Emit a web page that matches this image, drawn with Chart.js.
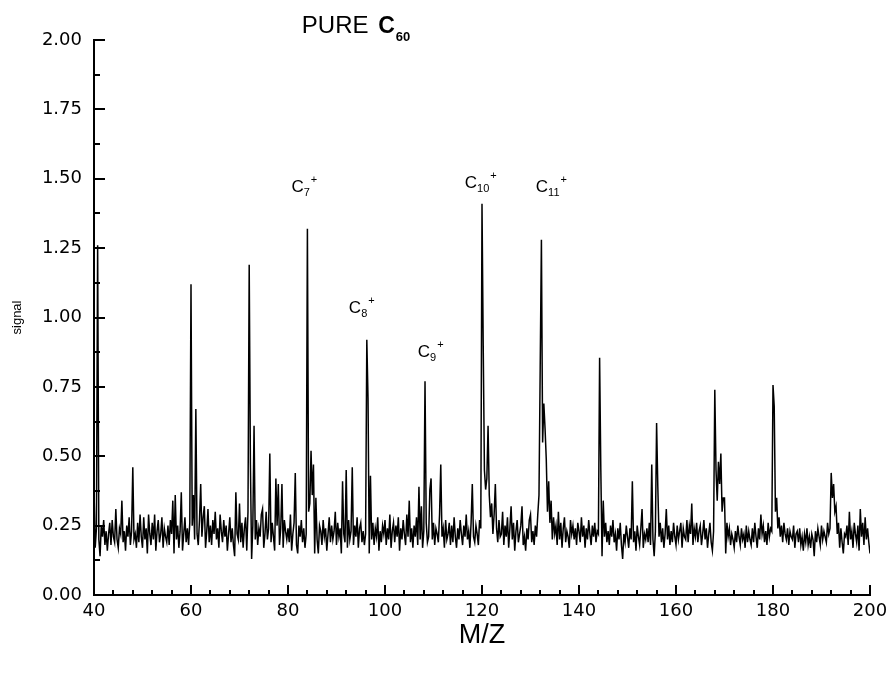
<!DOCTYPE html>
<html>
<head>
<meta charset="utf-8">
<script src="https://cdn.jsdelivr.net/npm/chart.js@4.4.1/dist/chart.umd.min.js"></script>
<style>
  html, body { margin: 0; padding: 0; background: #ffffff; }
  #wrap { width: 890px; height: 673px; position: relative; }
</style>
</head>
<body>
<div id="wrap"><canvas id="c" width="890" height="673"></canvas></div>
<script>
// ---------------- data ----------------
const mzStart = 40;      // first M/Z value of the scan
const mzStep = 0.25;     // sampling interval of the scan
// signal, 4 samples per M/Z unit (rows start at the M/Z shown in the comment)
const signal = [
  0.38, 0.17, 0.24, 1.26,  // 40
  0.20, 0.14, 0.25, 0.21,  // 41
  0.27, 0.18, 0.23, 0.16,  // 42
  0.22, 0.26, 0.18, 0.27,  // 43
  0.21, 0.19, 0.31, 0.20,  // 44
  0.17, 0.24, 0.22, 0.34,  // 45
  0.19, 0.23, 0.16, 0.25,  // 46
  0.21, 0.28, 0.18, 0.23,  // 47
  0.46, 0.20, 0.22, 0.17,  // 48
  0.26, 0.19, 0.29, 0.21,  // 49
  0.17, 0.28, 0.20, 0.24,  // 50
  0.15, 0.29, 0.22, 0.18,  // 51
  0.26, 0.20, 0.29, 0.16,  // 52
  0.23, 0.27, 0.19, 0.22,  // 53
  0.28, 0.17, 0.24, 0.21,  // 54
  0.19, 0.25, 0.18, 0.27,  // 55
  0.22, 0.34, 0.15, 0.36,  // 56
  0.20, 0.25, 0.17, 0.23,  // 57
  0.37, 0.16, 0.22, 0.28,  // 58
  0.19, 0.24, 0.18, 0.26,  // 59
  1.12, 0.25, 0.36, 0.20,  // 60
  0.67, 0.22, 0.18, 0.27,  // 61
  0.40, 0.21, 0.28, 0.32,  // 62
  0.17, 0.23, 0.31, 0.19,  // 63
  0.25, 0.18, 0.27, 0.22,  // 64
  0.30, 0.20, 0.24, 0.17,  // 65
  0.29, 0.23, 0.19, 0.27,  // 66
  0.21, 0.25, 0.16, 0.22,  // 67
  0.28, 0.19, 0.24, 0.18,  // 68
  0.14, 0.37, 0.22, 0.20,  // 69
  0.33, 0.19, 0.26, 0.17,  // 70
  0.24, 0.28, 0.16, 0.30,  // 71
  1.19, 0.47, 0.13, 0.25,  // 72
  0.61, 0.20, 0.27, 0.18,  // 73
  0.24, 0.21, 0.29, 0.31,  // 74
  0.17, 0.22, 0.30, 0.20,  // 75
  0.24, 0.51, 0.19, 0.26,  // 76
  0.21, 0.16, 0.42, 0.25,  // 77
  0.40, 0.18, 0.24, 0.40,  // 78
  0.17, 0.27, 0.23, 0.20,  // 79
  0.24, 0.19, 0.29, 0.16,  // 80
  0.22, 0.26, 0.44, 0.18,  // 81
  0.15, 0.25, 0.21, 0.27,  // 82
  0.19, 0.24, 0.17, 0.22,  // 83
  1.32, 0.30, 0.33, 0.52,  // 84
  0.36, 0.47, 0.15, 0.35,  // 85
  0.20, 0.15, 0.25, 0.23,  // 86
  0.18, 0.27, 0.21, 0.24,  // 87
  0.16, 0.22, 0.28, 0.19,  // 88
  0.25, 0.20, 0.23, 0.30,  // 89
  0.18, 0.26, 0.21, 0.24,  // 90
  0.15, 0.41, 0.22, 0.19,  // 91
  0.45, 0.17, 0.27, 0.20,  // 92
  0.23, 0.46, 0.18, 0.25,  // 93
  0.21, 0.28, 0.17, 0.24,  // 94
  0.26, 0.19, 0.23, 0.18,  // 95
  0.22, 0.92, 0.71, 0.15,  // 96
  0.43, 0.20, 0.26, 0.18,  // 97
  0.24, 0.21, 0.28, 0.16,  // 98
  0.23, 0.19, 0.25, 0.22,  // 99
  0.27, 0.18, 0.24, 0.20,  // 100
  0.29, 0.17, 0.23, 0.26,  // 101
  0.19, 0.25, 0.21, 0.28,  // 102
  0.16, 0.24, 0.20, 0.27,  // 103
  0.22, 0.18, 0.29, 0.21,  // 104
  0.34, 0.19, 0.24, 0.17,  // 105
  0.25, 0.21, 0.28, 0.18,  // 106
  0.39, 0.20, 0.32, 0.17,  // 107
  0.23, 0.77, 0.26, 0.19,  // 108
  0.21, 0.38, 0.42, 0.20,  // 109
  0.26, 0.18, 0.24, 0.22,  // 110
  0.19, 0.29, 0.47, 0.21,  // 111
  0.24, 0.17, 0.27, 0.20,  // 112
  0.22, 0.26, 0.18, 0.25,  // 113
  0.19, 0.28, 0.21, 0.17,  // 114
  0.24, 0.20, 0.27, 0.22,  // 115
  0.18, 0.25, 0.21, 0.29,  // 116
  0.20, 0.23, 0.17, 0.26,  // 117
  0.40, 0.21, 0.19, 0.25,  // 118
  0.22, 0.18, 0.27, 0.24,  // 119
  1.41, 0.90, 0.45, 0.38,  // 120
  0.42, 0.61, 0.36, 0.28,  // 121
  0.33, 0.22, 0.29, 0.40,  // 122
  0.24, 0.19, 0.27, 0.21,  // 123
  0.22, 0.30, 0.18, 0.25,  // 124
  0.21, 0.28, 0.17, 0.24,  // 125
  0.32, 0.20, 0.26, 0.16,  // 126
  0.23, 0.27, 0.19, 0.22,  // 127
  0.25, 0.32, 0.18, 0.21,  // 128
  0.16, 0.24, 0.20, 0.27,  // 129
  0.29, 0.19, 0.23, 0.18,  // 130
  0.25, 0.21, 0.29, 0.36,  // 131
  0.82, 1.28, 0.55, 0.69,  // 132
  0.60, 0.49, 0.30, 0.41,  // 133
  0.26, 0.34, 0.20, 0.28,  // 134
  0.22, 0.25, 0.18, 0.30,  // 135
  0.20, 0.26, 0.17, 0.24,  // 136
  0.28, 0.19, 0.23, 0.21,  // 137
  0.17, 0.27, 0.22, 0.25,  // 138
  0.20, 0.24, 0.18, 0.26,  // 139
  0.23, 0.19, 0.28, 0.21,  // 140
  0.25, 0.17, 0.24, 0.20,  // 141
  0.27, 0.22, 0.18, 0.25,  // 142
  0.21, 0.26, 0.19, 0.23,  // 143
  0.22, 0.855, 0.45, 0.14, // 144
  0.34, 0.21, 0.26, 0.19,  // 145
  0.23, 0.18, 0.25, 0.21,  // 146
  0.27, 0.19, 0.22, 0.16,  // 147
  0.24, 0.20, 0.26, 0.18,  // 148
  0.13, 0.22, 0.19, 0.25,  // 149
  0.21, 0.17, 0.24, 0.20,  // 150
  0.41, 0.19, 0.23, 0.16,  // 151
  0.25, 0.21, 0.18, 0.24,  // 152
  0.31, 0.17, 0.22, 0.20,  // 153
  0.24, 0.19, 0.26, 0.18,  // 154
  0.47, 0.20, 0.14, 0.23,  // 155
  0.62, 0.39, 0.21, 0.26,  // 156
  0.19, 0.24, 0.17, 0.22,  // 157
  0.31, 0.20, 0.25, 0.18,  // 158
  0.23, 0.19, 0.26, 0.21,  // 159
  0.18, 0.25, 0.20, 0.23,  // 160
  0.26, 0.17, 0.24, 0.21,  // 161
  0.20, 0.27, 0.19, 0.25,  // 162
  0.22, 0.33, 0.18, 0.24,  // 163
  0.21, 0.26, 0.19, 0.23,  // 164
  0.25, 0.18, 0.22, 0.27,  // 165
  0.20, 0.24, 0.17, 0.22,  // 166
  0.26, 0.19, 0.16, 0.23,  // 167
  0.74, 0.45, 0.34, 0.48,  // 168
  0.40, 0.51, 0.30, 0.35,  // 169
  0.35, 0.15, 0.26, 0.21,  // 170
  0.24, 0.18, 0.22, 0.20,  // 171
  0.17, 0.23, 0.19, 0.25,  // 172
  0.21, 0.18, 0.24, 0.20,  // 173
  0.22, 0.17, 0.25, 0.19,  // 174
  0.23, 0.20, 0.18, 0.24,  // 175
  0.19, 0.26, 0.21, 0.17,  // 176
  0.24, 0.20, 0.29, 0.22,  // 177
  0.25, 0.19, 0.23, 0.18,  // 178
  0.26, 0.21, 0.24, 0.23,  // 179
  0.757, 0.68, 0.30, 0.35, // 180
  0.24, 0.28, 0.21, 0.25,  // 181
  0.19, 0.26, 0.22, 0.20,  // 182
  0.24, 0.18, 0.23, 0.21,  // 183
  0.20, 0.25, 0.17, 0.22,  // 184
  0.23, 0.19, 0.24, 0.18,  // 185
  0.21, 0.16, 0.22, 0.19,  // 186
  0.24, 0.18, 0.21, 0.17,  // 187
  0.22, 0.20, 0.14, 0.23,  // 188
  0.19, 0.24, 0.21, 0.18,  // 189
  0.25, 0.20, 0.23, 0.21,  // 190
  0.19, 0.26, 0.22, 0.24,  // 191
  0.44, 0.35, 0.40, 0.30,  // 192
  0.32, 0.22, 0.26, 0.17,  // 193
  0.24, 0.19, 0.15, 0.22,  // 194
  0.21, 0.25, 0.18, 0.30,  // 195
  0.20, 0.23, 0.17, 0.26,  // 196
  0.22, 0.19, 0.25, 0.16,  // 197
  0.31, 0.21, 0.26, 0.18,  // 198
  0.28, 0.20, 0.24, 0.19,  // 199
  0.15                     // 200
];
const xTickValues = [40, 60, 80, 100, 120, 140, 160, 180, 200];
const yTickValues = [0, 0.25, 0.5, 0.75, 1.0, 1.25, 1.5, 1.75, 2.0];
const ionSizes = ['7', '8', '9', '10', '11'];          // C_n^+ peak labels
const ionLabelMz = [80.7, 92.55, 106.75, 116.45, 131.1]; // label anchor (M/Z)
const ionLabelSignal = [1.452, 1.016, 0.858, 1.467, 1.452]; // label anchor (signal)
const titleMain = 'PURE ';
const titleMol = 'C';
const titleSub = '60';

// ---------------- chart ----------------
const points = signal.map((v, i) => ({ x: mzStart + i * mzStep, y: v }));

const minorTicks = {
  id: 'minorTicks',
  afterDraw(chart) {
    const { ctx, chartArea: a, scales: { x, y } } = chart;
    ctx.save();
    ctx.strokeStyle = '#000';
    ctx.lineWidth = 2;
    ctx.lineCap = 'butt';
    const seg = (x1, y1, x2, y2) => { ctx.beginPath(); ctx.moveTo(x1, y1); ctx.lineTo(x2, y2); ctx.stroke(); };
    // x axis: major every label, 4 minor ticks between (inward)
    x.ticks.forEach((t, i) => {
      const px = Math.round(x.getPixelForValue(t.value));
      seg(px, a.bottom, px, a.bottom - 10);
      if (i < x.ticks.length - 1) {
        const st = (x.ticks[i + 1].value - t.value) / 5;
        for (let k = 1; k < 5; k++) {
          const p2 = Math.round(x.getPixelForValue(t.value + k * st));
          seg(p2, a.bottom, p2, a.bottom - 5);
        }
      }
    });
    // y axis: major at labels, one minor between (inward)
    y.ticks.forEach((t, i) => {
      const py = Math.round(y.getPixelForValue(t.value));
      seg(a.left - 1, py, a.left + 11, py);
      if (i < y.ticks.length - 1) {
        const mid = (y.ticks[i + 1].value + t.value) / 2;
        const p2 = Math.round(y.getPixelForValue(mid));
        seg(a.left - 1, p2, a.left + 6, p2);
      }
    });
    ctx.restore();
  }
};

const annotations = {
  id: 'annotations',
  afterDraw(chart) {
    const { ctx, scales: { x, y } } = chart;
    ctx.save();
    ctx.fillStyle = '#000';
    ctx.textBaseline = 'alphabetic';
    ctx.textAlign = 'left';
    ionSizes.forEach((n, i) => {
      const px = x.getPixelForValue(ionLabelMz[i]);
      const py = y.getPixelForValue(ionLabelSignal[i]);
      ctx.font = '17px "Liberation Sans", Arial, sans-serif';
      ctx.fillText('C', px, py);
      let cx = px + ctx.measureText('C').width;
      ctx.font = '11px "Liberation Sans", Arial, sans-serif';
      ctx.fillText(n, cx, py + 4);
      cx += ctx.measureText(n).width + 1;
      ctx.fillText('+', cx, py - 9);
    });
    // title
    const tx = x.getPixelForValue(82.85);
    const ty = y.getPixelForValue(2.025);
    ctx.font = '24px "Liberation Sans", Arial, sans-serif';
    ctx.fillText(titleMain, tx, ty);
    let cx = tx + ctx.measureText(titleMain).width + 3;
    ctx.font = 'bold 23px "Liberation Sans", Arial, sans-serif';
    ctx.fillText(titleMol, cx, ty);
    cx += ctx.measureText(titleMol).width + 1;
    ctx.font = 'bold 13px "Liberation Sans", Arial, sans-serif';
    ctx.fillText(titleSub, cx, ty + 8);
    ctx.restore();
  }
};

new Chart(document.getElementById('c'), {
  type: 'line',
  data: {
    datasets: [{
      data: points,
      borderColor: '#000',
      borderWidth: 1.5,
      pointRadius: 0,
      tension: 0,
      fill: false
    }]
  },
  options: {
    responsive: false,
    animation: false,
    devicePixelRatio: 1,
    layout: { padding: { top: 40, right: 20, left: 0, bottom: 0 } },
    plugins: { legend: { display: false }, tooltip: { enabled: false } },
    scales: {
      x: {
        type: 'linear',
        min: 40, max: 200,
        afterBuildTicks: s => { s.ticks = xTickValues.map(v => ({ value: v })); },
        afterFit: s => { s.height = 78; s.paddingRight = 0; },
        ticks: {
          color: '#000', padding: 6, maxRotation: 0, autoSkip: false,
          font: { family: 'DejaVu Sans', size: 18 }
        },
        grid: { display: true, drawOnChartArea: false, drawTicks: false },
        border: { display: true, color: '#000', width: 2 },
        title: {
          display: true, text: 'M/Z', color: '#000',
          font: { family: 'Liberation Sans', size: 27 },
          padding: { top: 0, bottom: 21 }
        }
      },
      y: {
        type: 'linear',
        min: 0, max: 2,
        afterBuildTicks: s => { s.ticks = yTickValues.map(v => ({ value: v })); },
        afterFit: s => { s.width = 94; },
        ticks: {
          color: '#000', padding: 12,
          font: { family: 'DejaVu Sans', size: 18 },
          callback: v => Number(v).toFixed(2)
        },
        grid: { display: true, drawOnChartArea: false, drawTicks: false },
        border: { display: true, color: '#000', width: 2 },
        title: {
          display: true, text: 'signal', color: '#000',
          font: { family: 'Liberation Sans', size: 13 },
          padding: { top: 10, bottom: 0 }
        }
      }
    }
  },
  plugins: [minorTicks, annotations]
});
</script>
</body>
</html>
